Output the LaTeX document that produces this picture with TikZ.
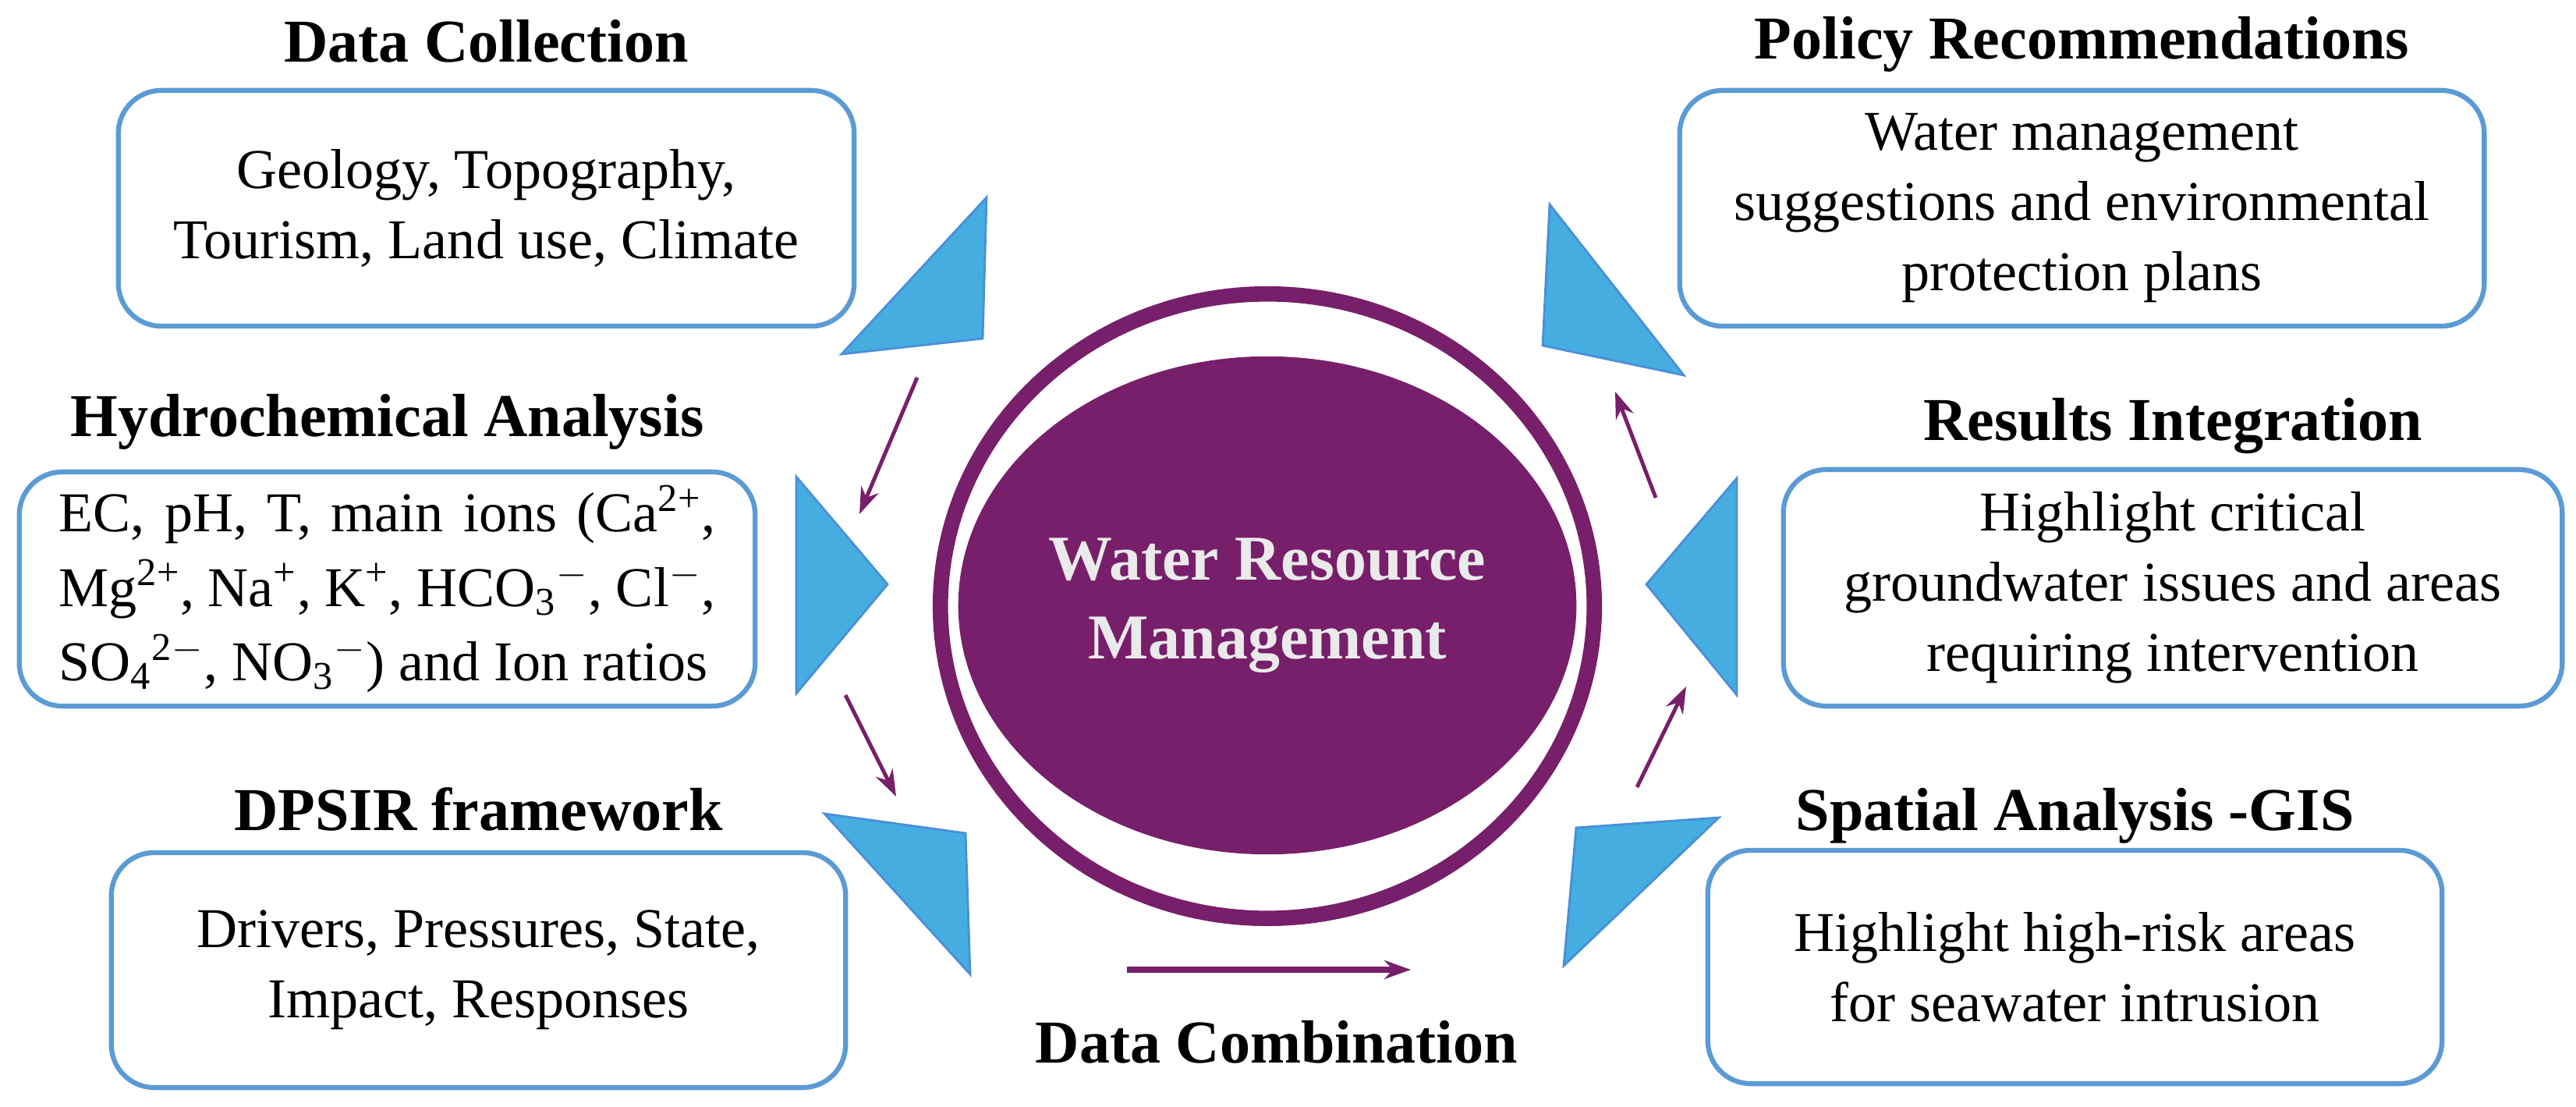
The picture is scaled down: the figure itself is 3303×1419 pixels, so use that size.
\documentclass[tikz,border=0pt]{standalone}
\usepackage{fontspec}
\setmainfont{Liberation Serif}
\usepackage{tikz}
\usetikzlibrary{arrows.meta, positioning, shapes.geometric}

\definecolor{boxblue}{HTML}{5B9BD5}
\definecolor{triblue}{HTML}{45ADE0}
\definecolor{triedge}{HTML}{4A8FD8}
\definecolor{wrmpurple}{HTML}{771F6A}
\definecolor{wrmtext}{HTML}{EAEAEA}

\tikzset{
  infobox/.style={draw=boxblue, line width=1.8pt, rounded corners=0.55cm, fill=white,
    font=\fontsize{20.5}{25.6}\selectfont, align=center, inner sep=0pt},
  title/.style={font=\fontsize{22.2}{26}\selectfont\bfseries, inner sep=0pt, anchor=base},
  tri/.style={fill=triblue, draw=triedge, line width=0.8pt, line join=miter},
  flow/.style={draw=wrmpurple, line width=1.4pt, -{Stealth[length=0.34cm, width=0.24cm]}},
}

\begin{document}
\begin{tikzpicture}[x=0.01cm, y=-0.01cm]
        \useasboundingbox (0,0) rectangle (3303,1419);

        % boxes
        \node[infobox, minimum width=9.43cm, minimum height=3.02cm] (dc) at (623.5,267) {Geology, Topography,\\Tourism, Land use, Climate};
        \node[infobox, minimum width=9.43cm, minimum height=3.00cm] (hca) at (496.5,755) {};
        \node[font=\fontsize{20.5}{27.2}\selectfont, text width=8.41cm, align=justify, inner sep=0pt] (hcatext) at (hca.center)
          {EC, pH, T, main ions (Ca\textsuperscript{2+}, Mg\textsuperscript{2+}, Na\textsuperscript{+}, K\textsuperscript{+}, HCO\textsubscript{3}\textsuperscript{$-$}, Cl\textsuperscript{$-$}, SO\textsubscript{4}\textsuperscript{2$-$}, NO\textsubscript{3}\textsuperscript{$-$}) and Ion ratios};
        \node[infobox, minimum width=9.41cm, minimum height=3.01cm] (dpsir) at (613.5,1243.5) {Drivers, Pressures, State,\\Impact, Responses};
        \node[infobox, minimum width=10.31cm, minimum height=3.02cm] (pr) at (2669.5,267) {Water management\\suggestions and environmental\\protection plans};
        \node[infobox, minimum width=9.98cm, minimum height=3.03cm] (ri) at (2786,753.5) {Highlight critical\\groundwater issues and areas\\requiring intervention};
        \node[infobox, minimum width=9.41cm, minimum height=2.99cm] (sa) at (2660.5,1239.5) {Highlight high-risk areas\\for seawater intrusion};

        % titles
        \node[title] (tdc) at ([yshift=0.33cm]dc.north) {Data Collection};
        \node[title] (thca) at ([yshift=0.42cm]hca.north) {Hydrochemical Analysis};
        \node[title] (tdpsir) at ([yshift=0.25cm]dpsir.north) {DPSIR framework};
        \node[title] (tpr) at ([yshift=0.37cm]pr.north) {Policy Recommendations};
        \node[title] (tri) at ([yshift=0.34cm]ri.north) {Results Integration};
        \node[title] (tsa) at ([yshift=0.22cm]sa.north) {Spatial Analysis -GIS};
        \node[title] (tdcomb) at (1637,1362) {Data Combination};

        % centre
        \draw[wrmpurple, line width=5.6pt] (1625,777) ellipse [x radius=4.19cm, y radius=4.00cm];
        \node[ellipse, fill=wrmpurple, minimum width=6.86cm, minimum height=6.38cm, inner sep=0pt,
          text=wrmtext, font=\fontsize{23.3}{28.6}\selectfont\bfseries, align=center] (wrm) at (1625,776)
          {Water Resource\\Management};

        % pointers
        \fill[tri] (1265,253) -- (1260,434) -- (1079,454) -- cycle;
        \fill[tri] (1021,611) -- (1138,749) -- (1021,889) -- cycle;
        \fill[tri] (1057,1043) -- (1238,1068) -- (1244,1249) -- cycle;
        \fill[tri] (1987,262) -- (2159,481) -- (1978,443) -- cycle;
        \fill[tri] (2227,613) -- (2111,749) -- (2227,891) -- cycle;
        \fill[tri] (2204,1048) -- (2021,1061) -- (2005,1238) -- cycle;

        % flow arrows
        \coordinate (a1s) at (1176,484);  \coordinate (a1e) at (1102,659);
        \coordinate (a2s) at (1084,891);  \coordinate (a2e) at (1149,1021);
        \coordinate (a3s) at (1445,1243); \coordinate (a3e) at (1809,1243);
        \coordinate (a4s) at (2099,1009); \coordinate (a4e) at (2162,880);
        \coordinate (a5s) at (2123,638);  \coordinate (a5e) at (2071,502);
        \draw[flow] (a1s) -- (a1e);
        \draw[flow] (a2s) -- (a2e);
        \draw[flow, line width=2pt] (a3s) -- (a3e);
        \draw[flow] (a4s) -- (a4e);
        \draw[flow] (a5s) -- (a5e);
\end{tikzpicture}
\end{document}
